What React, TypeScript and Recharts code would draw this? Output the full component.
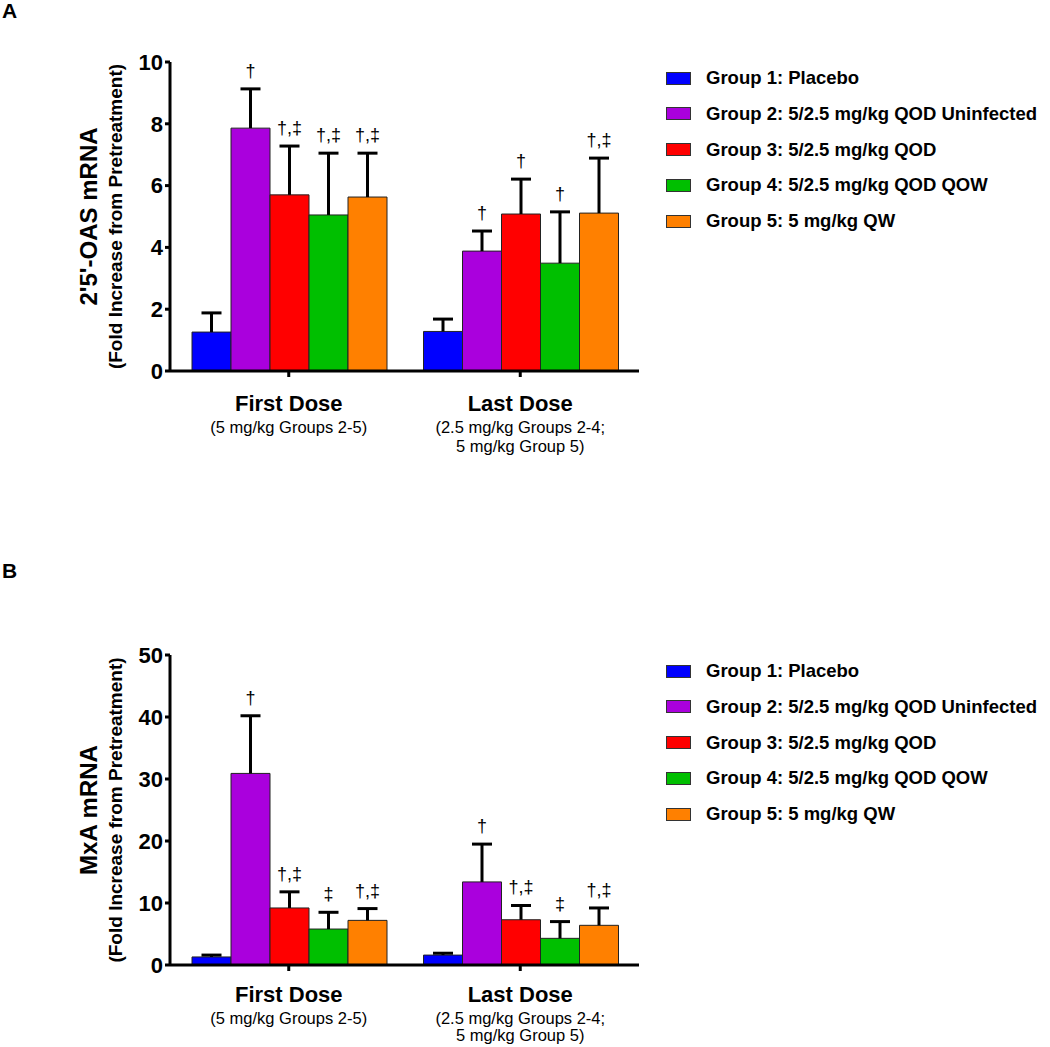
import React from 'react';
import { Bar, BarChart, XAxis, YAxis, LabelList } from 'recharts';

// categories on the x axis and the notes printed under them
const categories = ['First Dose', 'Last Dose'];
const doseNotes = [['(5 mg/kg Groups 2-5)'], ['(2.5 mg/kg Groups 2-4;', '5 mg/kg Group 5)']];

const groupNames = [
  'Group 1: Placebo',
  'Group 2: 5/2.5 mg/kg QOD Uninfected',
  'Group 3: 5/2.5 mg/kg QOD',
  'Group 4: 5/2.5 mg/kg QOD QOW',
  'Group 5: 5 mg/kg QW',
];
const groupColors = ['#0000FF', '#AA00DD', '#FF0000', '#00BF00', '#FF8000'];

// 2'5'-OAS: [first dose, last dose] per group
const oasMean = [[1.26, 1.28], [7.86, 3.88], [5.7, 5.08], [5.05, 3.49], [5.63, 5.11]];
const oasErr = [[0.62, 0.4], [1.27, 0.65], [1.58, 1.13], [2.0, 1.66], [1.42, 1.78]];
const oasMarks = [['', ''], ['†', '†'], ['†,‡', '†'], ['†,‡', '†'], ['†,‡', '†,‡']];
const oasTicks = [0, 2, 4, 6, 8, 10];

// MxA
const mxaMean = [[1.3, 1.6], [30.9, 13.4], [9.2, 7.3], [5.8, 4.3], [7.2, 6.4]];
const mxaErr = [[0.3, 0.3], [9.3, 6.1], [2.6, 2.3], [2.7, 2.7], [1.9, 2.8]];
const mxaMarks = [['', ''], ['†', '†'], ['†,‡', '†,‡'], ['‡', '‡'], ['†,‡', '†,‡']];
const mxaTicks = [0, 10, 20, 30, 40, 50];

const FONT = 'Arial, "Liberation Sans", Helvetica, sans-serif';

function buildRows(mean: number[][], err: number[][], marks: string[][]) {
  return categories.map((name, ci) => {
    const row: any = { name };
    groupNames.forEach((_, gi) => {
      row[`g${gi}`] = mean[gi][ci];
      row[`e${gi}`] = err[gi][ci];
      row[`m${gi}`] = marks[gi][ci];
    });
    return row;
  });
}

// upper whisker drawn over the stacked error segment
const Whisker = (p: any) => {
  const { x, y, width, height } = p;
  if (height == null || isNaN(y)) return null;
  const cx = x + width / 2;
  return (
    <g>
      <line x1={cx} x2={cx} y1={y + height} y2={y} stroke="#000" strokeWidth={3} />
      <line x1={cx - 10} x2={cx + 10} y1={y} y2={y} stroke="#000" strokeWidth={3} />
    </g>
  );
};

const MarkLabel = (p: any) => {
  const { x, y, width, value } = p;
  if (!value) return null;
  return (
    <text x={x + width / 2} y={y - 12} textAnchor="middle" fontSize={18} fill="#000" fontFamily={FONT}>
      {value}
    </text>
  );
};

const AxisTitle = ({ viewBox, lines }: any) => {
  const cy = viewBox ? viewBox.y + viewBox.height / 2 : 216;
  return (
    <g>
      <text x={97} y={cy} transform={`rotate(-90 97 ${cy})`} textAnchor="middle" fontSize={24} fontWeight="bold" fill="#000">
        {lines[0]}
      </text>
      <text x={122} y={cy} transform={`rotate(-90 122 ${cy})`} textAnchor="middle" fontSize={19} fontWeight="bold" fill="#000">
        {lines[1]}
      </text>
    </g>
  );
};

const DoseTick = ({ x, y, payload, offsets }: any) => {
  const ci = categories.indexOf(payload.value);
  const notes = doseNotes[ci] || [];
  return (
    <g transform={`translate(${x},${y - 6})`}>
      <text y={offsets[0]} textAnchor="middle" fontSize={22} fontWeight="bold" fill="#000">
        {payload.value}
      </text>
      {notes.map((n, i) => (
        <text key={i} y={offsets[1 + i]} textAnchor="middle" fontSize={16.5} fill="#000">
          {n}
        </text>
      ))}
    </g>
  );
};

interface PanelProps {
  letter: string;
  top: number;
  height: number;
  marginTop: number;
  xAxisHeight: number;
  rows: any[];
  ticks: number[];
  titleLines: string[];
  tickOffsets: number[];
  legendTop: number;
}

const Panel = ({ letter, top, height, marginTop, xAxisHeight, rows, ticks, titleLines, tickOffsets, legendTop }: PanelProps) => (
  <>
    <div style={{ position: 'absolute', left: 2, top, fontSize: 21, fontWeight: 'bold', lineHeight: '21px' }}>{letter}</div>
    <div style={{ position: 'absolute', left: 0, top }}>
      <BarChart
        width={660}
        height={height}
        data={rows}
        margin={{ top: marginTop, right: 21, bottom: 0, left: 0 }}
        barCategoryGap={19}
        barGap={0}
      >
        <XAxis
          dataKey="name"
          height={xAxisHeight}
          padding={{ left: 3, right: 3 }}
          axisLine={{ stroke: '#000', strokeWidth: 3 }}
          tickLine={{ stroke: '#000', strokeWidth: 3 }}
          tickSize={6}
          tickMargin={0}
          interval={0}
          tick={<DoseTick offsets={tickOffsets} />}
        />
        <YAxis
          width={170}
          domain={[0, ticks[ticks.length - 1]]}
          ticks={ticks}
          interval={0}
          axisLine={{ stroke: '#000', strokeWidth: 3 }}
          tickLine={{ stroke: '#000', strokeWidth: 3 }}
          tickSize={5}
          tickMargin={2}
          tick={{ fontSize: 22, fontWeight: 'bold', fill: '#000' }}
          label={<AxisTitle lines={titleLines} />}
        />
        {groupNames.flatMap((_, gi) => [
          <Bar
            key={`g${gi}`}
            dataKey={`g${gi}`}
            stackId={`s${gi}`}
            fill={groupColors[gi]}
            stroke="#222"
            strokeWidth={1}
            isAnimationActive={false}
          />,
          <Bar key={`e${gi}`} dataKey={`e${gi}`} stackId={`s${gi}`} shape={<Whisker />} isAnimationActive={false}>
            <LabelList dataKey={`m${gi}`} content={<MarkLabel />} />
          </Bar>,
        ])}
      </BarChart>
    </div>
    {groupNames.map((g, gi) => (
      <div
        key={g}
        style={{
          position: 'absolute',
          left: 666,
          top: legendTop + gi * 35.8 - 12,
          height: 24,
          display: 'flex',
          alignItems: 'center',
          whiteSpace: 'nowrap',
        }}
      >
        <span
          style={{
            display: 'inline-block',
            width: 23,
            height: 11,
            background: groupColors[gi],
            border: '1px solid #333',
            marginRight: 15,
          }}
        />
        <span style={{ fontSize: 18.5, fontWeight: 'bold' }}>{g}</span>
      </div>
    ))}
  </>
);

export default function App() {
  return (
    <div style={{ position: 'absolute', left: 0, top: 0, width: 1050, height: 1047, background: '#fff', fontFamily: FONT, color: '#000' }}>
      <Panel
        letter="A"
        top={0}
        height={480}
        marginTop={62}
        xAxisHeight={109}
        rows={buildRows(oasMean, oasErr, oasMarks)}
        ticks={oasTicks}
        titleLines={["2'5'-OAS mRNA", '(Fold Increase from Pretreatment)']}
        tickOffsets={[40, 62, 81]}
        legendTop={78}
      />
      <Panel
        letter="B"
        top={560}
        height={487}
        marginTop={95}
        xAxisHeight={82}
        rows={buildRows(mxaMean, mxaErr, mxaMarks)}
        ticks={mxaTicks}
        titleLines={['MxA mRNA', '(Fold Increase from Pretreatment)']}
        tickOffsets={[37, 59, 76]}
        legendTop={671}
      />
    </div>
  );
}
